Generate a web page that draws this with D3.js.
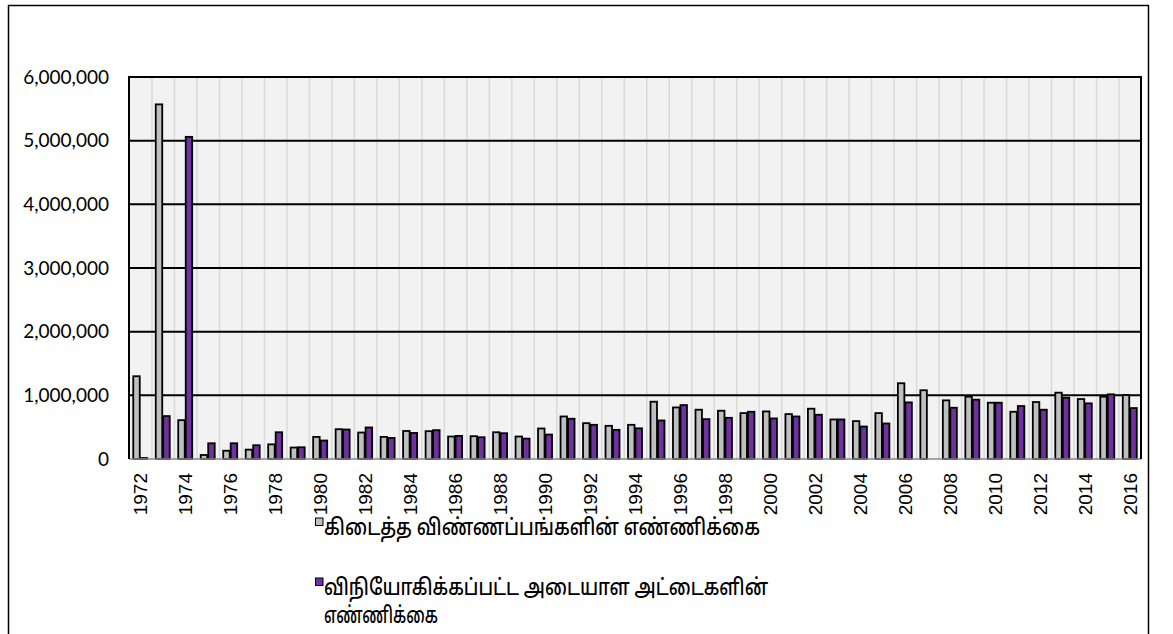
<!DOCTYPE html>
<html><head><meta charset="utf-8">
<script src="https://cdn.jsdelivr.net/npm/d3@7"></script>
<style>body{margin:0;background:#fff}svg{display:block}</style>
</head><body>
<script>
const years = [1972,1973,1974,1975,1976,1977,1978,1979,1980,1981,1982,1983,1984,1985,1986,1987,1988,1989,1990,1991,1992,1993,1994,1995,1996,1997,1998,1999,2000,2001,2002,2003,2004,2005,2006,2007,2008,2009,2010,2011,2012,2013,2014,2015,2016];
const received = [1300000,5570000,610000,63000,130000,147000,230000,180000,347000,468000,416000,347000,440000,437000,353000,358000,420000,353000,479000,668000,563000,521000,537000,900000,810000,774000,758000,721000,747000,705000,790000,621000,595000,721000,1190000,1080000,921000,979000,884000,742000,895000,1042000,942000,979000,1005000];
const issued = [15000,674000,5060000,247000,247000,216000,420000,184000,290000,463000,495000,330000,410000,453000,363000,342000,405000,320000,384000,632000,537000,458000,482000,605000,847000,626000,647000,742000,637000,668000,695000,621000,510000,558000,889000,0,805000,932000,884000,832000,774000,963000,874000,1016000,800000];
const yTicks = [0,1000000,2000000,3000000,4000000,5000000,6000000];
const xTickYears = [1972,1974,1976,1978,1980,1982,1984,1986,1988,1990,1992,1994,1996,1998,2000,2002,2004,2006,2008,2010,2012,2014,2016];
const seriesNames = ["கிடைத்த விண்ணப்பங்களின் எண்ணிக்கை", "விநியோகிக்கப்பட்ட அடையாள அட்டைகளின்", "எண்ணிக்கை"];
const colors = ["#bfbfbf", "#7030a0"];

const W = 1173, H = 634;
const L = 129, R = 1141, T = 77, B = 459;
const svg = d3.select("body").append("svg").attr("width", W).attr("height", H);

// outer frame
svg.append("rect").attr("x", 8.5).attr("y", 5.5).attr("width", 1140).attr("height", 640)
  .attr("fill", "#fff").attr("stroke", "#000").attr("stroke-width", 1.5);

const x = d3.scaleBand().domain(years).range([L, R]).paddingInner(0).paddingOuter(0);
const y = d3.scaleLinear().domain([0, 6000000]).range([B, T]);
const inner = d3.scaleBand().domain([0,1]).range([0, x.bandwidth()]).paddingInner(0).paddingOuter(0.5);

// plot background
svg.append("rect").attr("x", L).attr("y", T).attr("width", R - L).attr("height", B - T).attr("fill", "#f2f2f2");

// vertical gridlines at category boundaries
svg.append("g").selectAll("line").data(years.slice(1)).join("line")
  .attr("x1", d => x(d) + 0.5).attr("x2", d => x(d) + 0.5)
  .attr("y1", T).attr("y2", B)
  .attr("stroke", "#d9d9d9").attr("stroke-width", 1.5);

// horizontal gridlines
svg.append("g").selectAll("line").data(yTicks.filter(d => d > 0 && d < 6000000)).join("line")
  .attr("x1", L).attr("x2", R).attr("y1", d => y(d)).attr("y2", d => y(d))
  .attr("stroke", "#000").attr("stroke-width", 2);

// bars
const series = [received, issued];
series.forEach((vals, si) => {
  svg.append("g").selectAll("rect").data(years.map((yr, i) => ({yr, v: vals[i]})).filter(d => d.v > 0)).join("rect")
    .attr("x", d => x(d.yr) + inner(si) + 0.5)
    .attr("width", inner.bandwidth() - 1)
    .attr("y", d => y(d.v))
    .attr("height", d => B - y(d.v))
    .attr("fill", colors[si]).attr("stroke", "#000").attr("stroke-width", 1.8);
});

// baseline
svg.append("line").attr("x1", L).attr("x2", R).attr("y1", B).attr("y2", B).attr("stroke", "#888").attr("stroke-width", 1.5);
// plot border (top, left, right)
svg.append("path").attr("d", `M${L},${B}V${T}H${R}V${B}`).attr("fill", "none").attr("stroke", "#000").attr("stroke-width", 2);

// y axis labels
const yAxis = d3.axisLeft(y).tickValues(yTicks).tickFormat(d3.format(",")).tickSize(0).tickPadding(20);
const ya = svg.append("g").attr("transform", `translate(${L},0)`).call(yAxis);
ya.select(".domain").remove();
ya.selectAll("text").attr("font-family", "Lato, 'Liberation Sans', sans-serif").attr("font-size", 19).attr("fill", "#000");

// x axis labels
const xAxis = d3.axisBottom(x).tickValues(xTickYears).tickSize(0).tickPadding(0);
const xa = svg.append("g").attr("transform", `translate(0,${B})`).call(xAxis);
xa.select(".domain").remove();
xa.selectAll("text")
  .attr("font-family", "'Liberation Sans', Arial, sans-serif").attr("font-size", 19).attr("fill", "#000")
  .attr("transform", "rotate(-90)").attr("text-anchor", "end").attr("dy", "0.36em").attr("x", -14).attr("y", 0);

// legend
const lg = svg.append("g").attr("font-family", "'Noto Sans Tamil', 'Noto Sans', 'Latha', sans-serif").attr("font-size", 22.5).attr("font-weight", 500).attr("fill", "#000");
lg.append("rect").attr("x", 315.5).attr("y", 518).attr("width", 7.5).attr("height", 7.5).attr("fill", colors[0]).attr("stroke", "#000").attr("stroke-width", 1);
lg.append("text").attr("x", 324).attr("y", 535).text(seriesNames[0]).attr("textLength", 436).attr("lengthAdjust", "spacingAndGlyphs");
lg.append("rect").attr("x", 315.5).attr("y", 578).attr("width", 7.5).attr("height", 7.5).attr("fill", colors[1]).attr("stroke", "#000").attr("stroke-width", 1);
lg.append("text").attr("x", 324).attr("y", 595).text(seriesNames[1]).attr("textLength", 444).attr("lengthAdjust", "spacingAndGlyphs");
lg.append("text").attr("x", 324).attr("y", 623).text(seriesNames[2]).attr("textLength", 114).attr("lengthAdjust", "spacingAndGlyphs");
</script>
</body></html>
